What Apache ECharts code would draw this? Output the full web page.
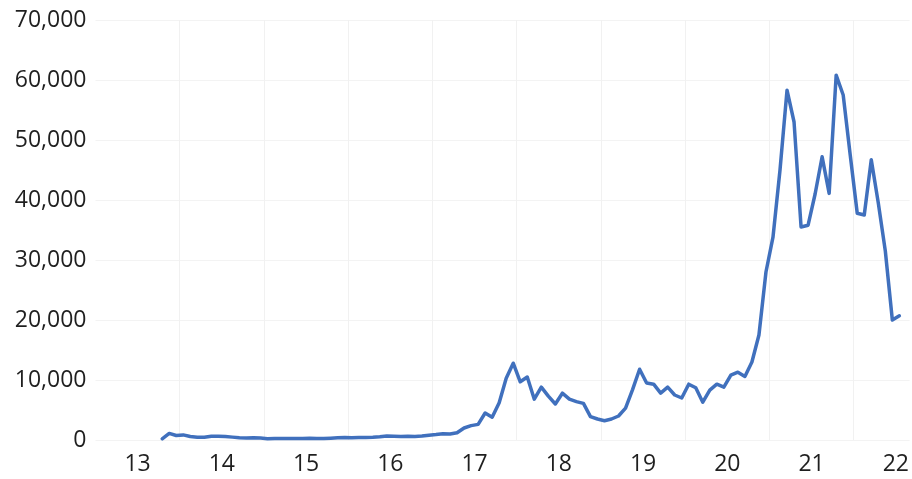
<!DOCTYPE html>
<html>
<head>
<meta charset="utf-8">
<script src="https://cdn.jsdelivr.net/npm/echarts@6/dist/echarts.min.js"></script>
<style>
html,body{margin:0;padding:0;background:#fff;}
#chart{width:912px;height:479px;}
</style>
</head>
<body>
<div id="chart"></div>
<script>
// Monthly observations, Oct 2013 – Jul 2022
const months = [
  '2013-10','2013-11','2013-12',
  '2014-01','2014-02','2014-03','2014-04','2014-05','2014-06','2014-07','2014-08','2014-09','2014-10','2014-11','2014-12',
  '2015-01','2015-02','2015-03','2015-04','2015-05','2015-06','2015-07','2015-08','2015-09','2015-10','2015-11','2015-12',
  '2016-01','2016-02','2016-03','2016-04','2016-05','2016-06','2016-07','2016-08','2016-09','2016-10','2016-11','2016-12',
  '2017-01','2017-02','2017-03','2017-04','2017-05','2017-06','2017-07','2017-08','2017-09','2017-10','2017-11','2017-12',
  '2018-01','2018-02','2018-03','2018-04','2018-05','2018-06','2018-07','2018-08','2018-09','2018-10','2018-11','2018-12',
  '2019-01','2019-02','2019-03','2019-04','2019-05','2019-06','2019-07','2019-08','2019-09','2019-10','2019-11','2019-12',
  '2020-01','2020-02','2020-03','2020-04','2020-05','2020-06','2020-07','2020-08','2020-09','2020-10','2020-11','2020-12',
  '2021-01','2021-02','2021-03','2021-04','2021-05','2021-06','2021-07','2021-08','2021-09','2021-10','2021-11','2021-12',
  '2022-01','2022-02','2022-03','2022-04','2022-05','2022-06','2022-07'
];
const prices = [
  200, 1100, 750,
  850, 580, 460, 450, 620, 630, 580, 480, 390, 340, 370, 320,
  220, 250, 245, 235, 230, 260, 285, 230, 235, 310, 380, 430,
  370, 435, 415, 450, 530, 670, 620, 575, 610, 600, 650, 800,
  900, 1050, 1000, 1200, 2000, 2400, 2600, 4500, 3800, 6200, 10300, 12800,
  9700, 10500, 6800, 8800, 7300, 6000, 7800, 6800, 6400, 6100, 3900, 3500,
  3200, 3500, 4000, 5300, 8400, 11800, 9500, 9300, 7800, 8800, 7500, 7000,
  9300, 8700, 6300, 8300, 9300, 8800, 10800, 11300, 10600, 13000, 17500, 28000,
  33800, 45000, 58300, 53000, 35500, 35800, 41000, 47200, 41100, 60800, 57500, 47500,
  37800, 37500, 46700, 39500, 31500, 20000, 20700
];
const yearTicks = [2013, 2014, 2015, 2016, 2017, 2018, 2019, 2020, 2021, 2022];
const yearLabels = ['13','14','15','16','17','18','19','20','21','22'];
const yTicks = [0, 10000, 20000, 30000, 40000, 50000, 60000, 70000];

// month -> decimal-year position (middle of the month)
const seriesData = months.map((m, i) => {
  const [y, mo] = m.split('-').map(Number);
  return [y + (mo - 0.5) / 12, prices[i]];
});

const chart = echarts.init(document.getElementById('chart'), null, {renderer: 'canvas'});
const fontFamily = '"Open Sans", "Liberation Sans", sans-serif';
chart.setOption({
  animation: false,
  backgroundColor: '#ffffff',
  grid: {left: 95.5, right: 0, top: 20, bottom: 39, containLabel: false},
  xAxis: {
    type: 'value',
    min: 2013,
    max: 2022.663,
    interval: 1,
    axisLine: {show: false},
    axisTick: {show: false},
    splitLine: {show: true, showMinLine: false, showMaxLine: false, lineStyle: {color: '#f1f1f1', width: 1}},
    axisLabel: {
      customValues: yearTicks.map(y => y + 0.5),
      formatter: v => yearLabels[Math.round(v - 0.5) - yearTicks[0]],
      color: '#1f1f1f',
      fontSize: 23,
      fontFamily: fontFamily,
      margin: 13
    }
  },
  yAxis: {
    type: 'value',
    min: yTicks[0],
    max: yTicks[yTicks.length - 1],
    interval: 10000,
    axisLine: {show: false},
    axisTick: {show: false},
    splitLine: {show: true, lineStyle: {color: '#f3f3f3', width: 1}},
    axisLabel: {
      formatter: v => v.toLocaleString('en-US'),
      color: '#1f1f1f',
      fontSize: 23,
      fontFamily: fontFamily,
      margin: 9
    }
  },
  series: [{
    type: 'line',
    data: seriesData,
    showSymbol: false,
    symbol: 'none',
    lineStyle: {color: '#4070bd', width: 3.5, join: 'round', cap: 'round'},
    emphasis: {disabled: true}
  }]
});
</script>
</body>
</html>
